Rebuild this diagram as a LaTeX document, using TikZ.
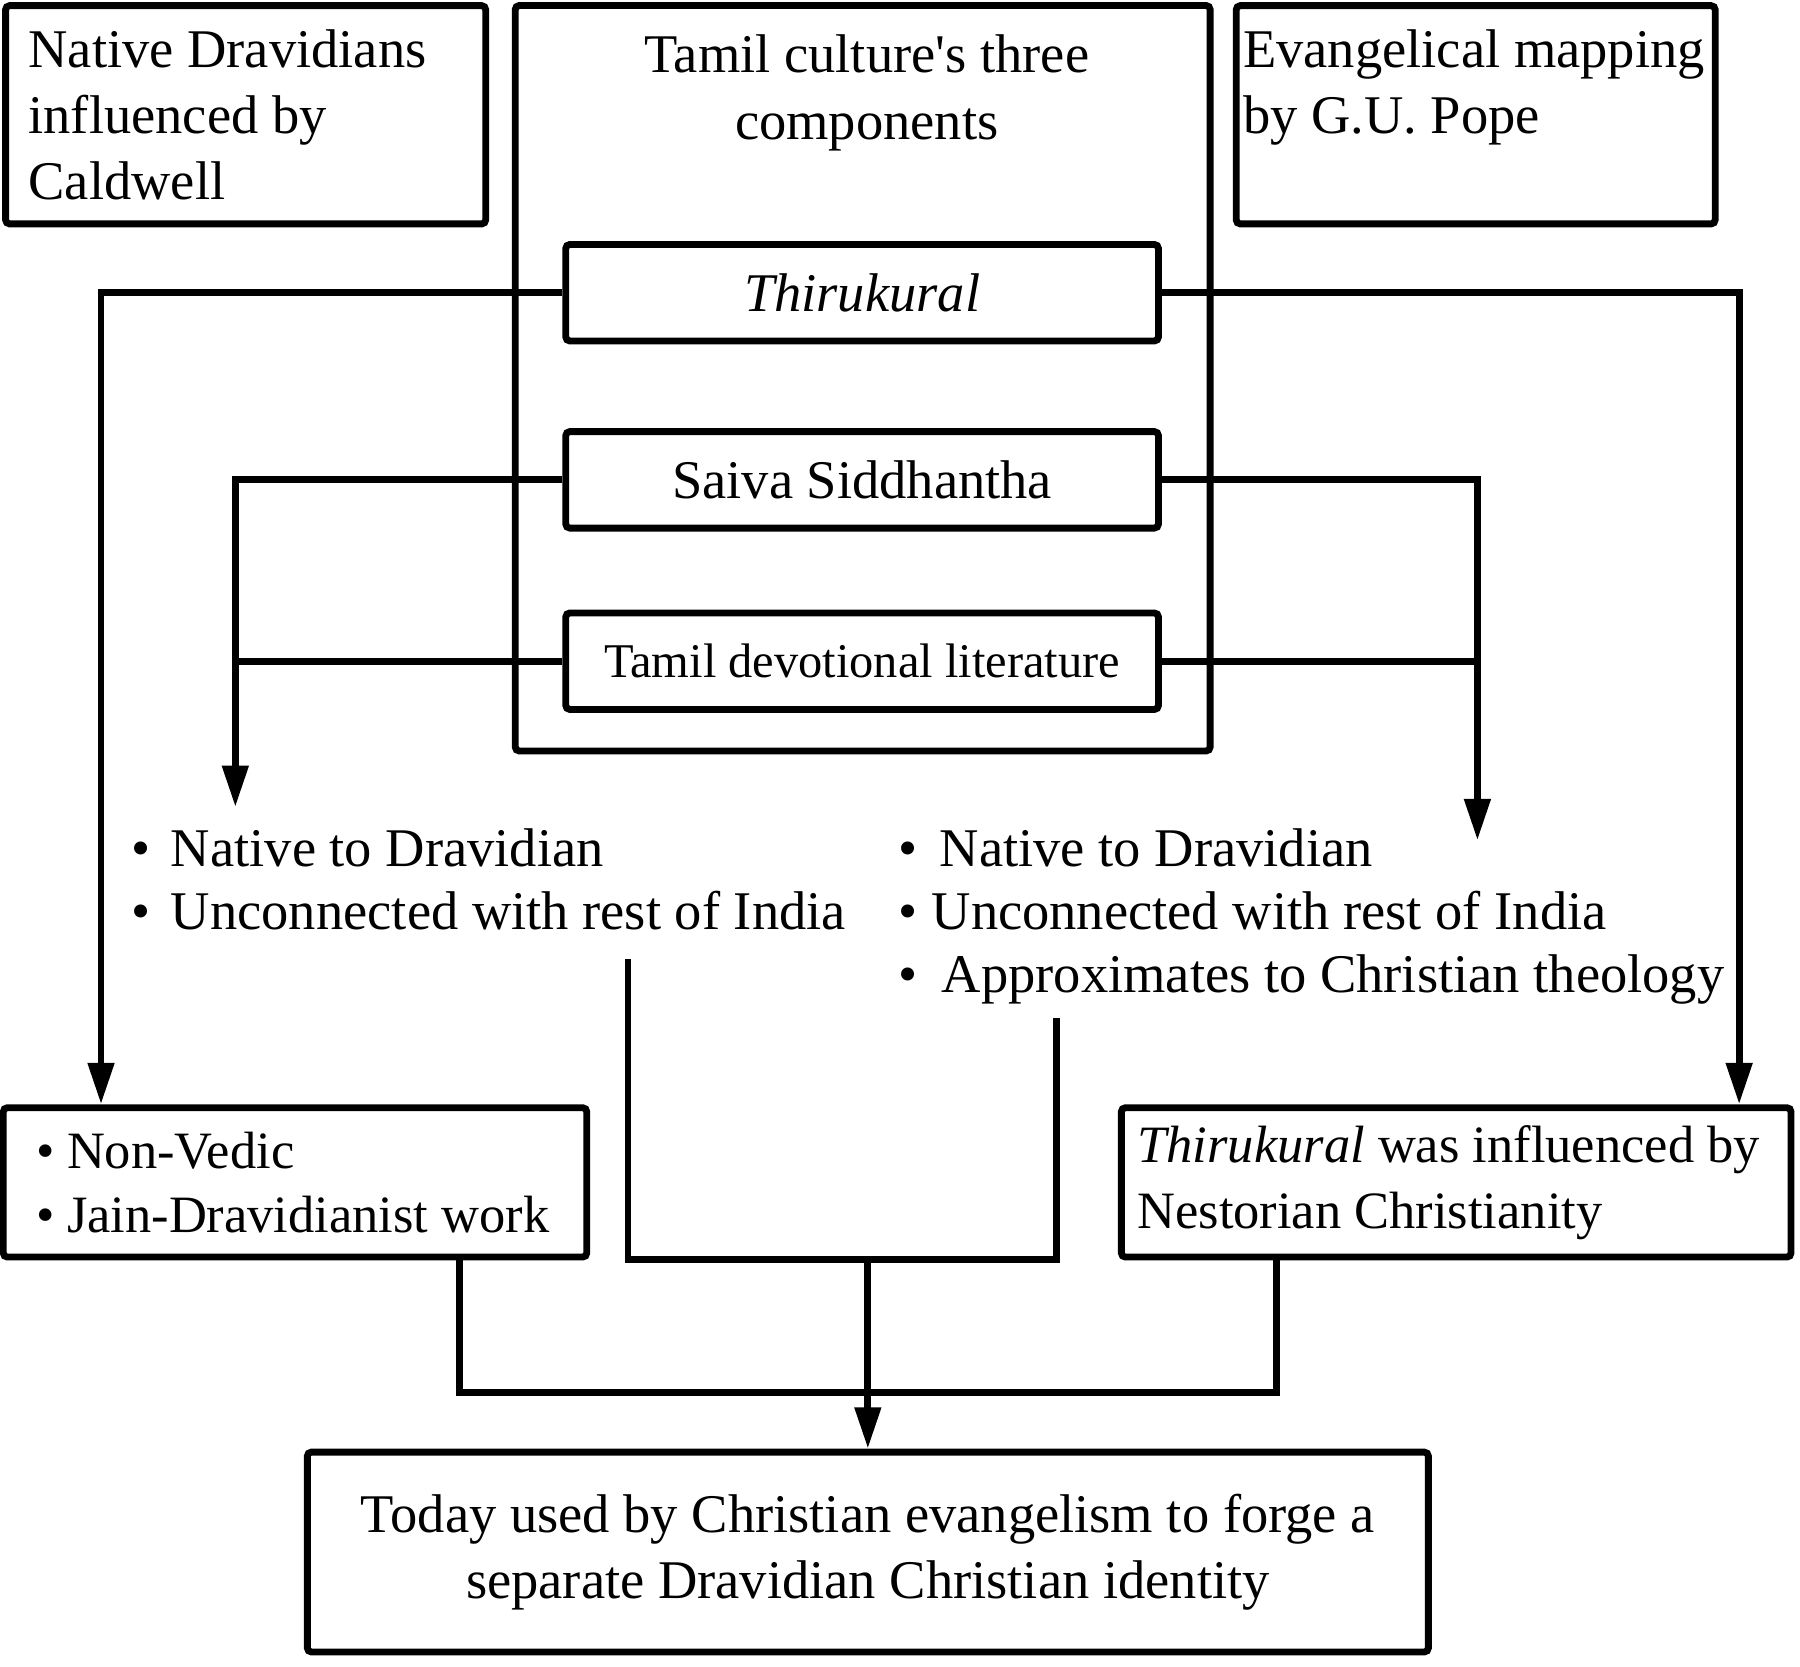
\documentclass[tikz,border=0pt]{standalone}
\usepackage{fontspec}
\setmainfont{Liberation Serif}
\usetikzlibrary{arrows.meta, positioning, calc}
\tikzset{
  bx/.style={draw, line width=1.7pt, rounded corners=1pt, inner sep=0pt},
  comp/.style={bx, minimum width=5.16cm, minimum height=0.84cm, align=center},
  pts/.style={inner sep=0pt, align=flush left, anchor=north west,
              font=\fontsize{13.5}{15.6}\selectfont},
  wire/.style={line width=1.7pt},
  arr/.style={-{Triangle[length=0.36cm, width=0.22cm]}, line width=1.7pt},
}

\begin{document}
\begin{tikzpicture}[x=0.01cm, y=-0.01cm, font=\fontsize{13.5}{16.3}\selectfont]
  \useasboundingbox (0,0) rectangle (1568,1452);

  % ─── Top row: the two readings and the three components ───────────
  \node[bx, minimum width=4.18cm, minimum height=1.90cm, text width=3.78cm, align=flush left]
    (caldwell) at (214,100) {Native Dravidians\\influenced by\\Caldwell};

  \node[bx, minimum width=6.05cm, minimum height=6.49cm] (culture) at (751.5,329.5) {};
  \node[align=center, font=\fontsize{13.5}{16.8}\selectfont]
    (title) at (755,81) {Tamil culture\textquotesingle s three\\components};

  \node[bx, minimum width=4.17cm, minimum height=1.90cm, text width=4.05cm, align=flush left]
    (pope) at (1285.5,100) {Evangelical mapping\\by G.U. Pope\\~};

  % Components
  \node[comp] (kural)  at (751,255) {\textit{Thirukural}};
  \node[comp] (saiva)  at (751,418) {Saiva Siddhantha};
  \node[comp, font=\fontsize{12}{14}\selectfont] (bhakti) at (751,576) {Tamil devotional literature};

  % ─── Middle: the two lists of claims ──────────────────────────────
  \node[pts] (leftpts) at (114,721)
    {\textbullet\hspace{5pt}Native to Dravidian\\
     \textbullet\hspace{5pt}Unconnected with rest of India};
  \node[pts] (rightpts) at (782,721)
    {\textbullet\hspace{5.5pt}Native to Dravidian\\
     \textbullet\hspace{3.5pt}Unconnected with rest of India\\
     \textbullet\hspace{6pt}Approximates to Christian theology};

  % ─── Lower boxes ──────────────────────────────────────────────────
  \node[bx, minimum width=5.08cm, minimum height=1.30cm, text width=4.5cm, align=flush left,
        font=\fontsize{13}{16}\selectfont]
    (nonvedic) at (257,1030)
    {\textbullet\hspace{3pt}Non-Vedic\\\textbullet\hspace{3pt}Jain-Dravidianist work};
  \node[bx, minimum width=5.83cm, minimum height=1.30cm, text width=5.55cm, align=flush left,
        font=\fontsize{13}{16.3}\selectfont]
    (nestor) at (1268.5,1030)
    {\textit{Thirukural} was influenced by\\Nestorian Christianity};

  \node[bx, minimum width=9.76cm, minimum height=1.74cm, align=center]
    (identity) at (756,1352)
    {Today used by Christian evangelism to forge a\\separate Dravidian Christian identity};

  % ─── Connectors ───────────────────────────────────────────────────
  \coordinate (lk)   at (88,0);
  \coordinate (rk)   at (1515,0);
  \coordinate (ltip) at (205,703);
  \coordinate (rtip) at (1287,732);

  \draw[arr] (kural.west) -| (lk |- nonvedic.north);
  \draw[arr] (kural.east) -| (rk |- nestor.north);

  \draw[arr]  (saiva.west) -| (ltip);
  \draw[wire] (bhakti.west) -- (bhakti.west -| ltip);
  \draw[arr]  (saiva.east) -| (rtip);
  \draw[wire] (bhakti.east) -- (bhakti.east -| rtip);

  % both lists join and feed the bottom box
  \coordinate (lstart) at (547,835);
  \coordinate (rstart) at (920,887);
  \coordinate (mid)    at (756,1097);
  \draw[wire] (lstart) |- (mid) -| (rstart);
  \draw[arr]  (mid) -- (identity.north);

  % lower boxes joined underneath
  \coordinate (jl) at (400,1213);
  \coordinate (jr) at (1112,1213);
  \draw[wire] (nonvedic.south -| jl) -- (jl) -- (jr) -- (nestor.south -| jr);

\end{tikzpicture}
\end{document}
